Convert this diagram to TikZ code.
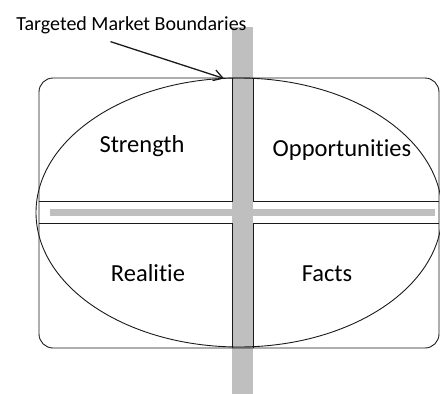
\documentclass[tikz,border=0pt]{standalone}
\usepackage{fontspec}
\setmainfont{Carlito}[RawFeature={-liga;-clig;-dlig}]
\usetikzlibrary{arrows.meta,positioning}
\definecolor{swbar}{HTML}{BFBFBF}
\definecolor{swline}{HTML}{1A1A1A}
\tikzset{
  frame/.style={draw=swline,line width=0.9pt},
  bar/.style={fill=swbar,draw=none},
  quad/.style={font=\fontsize{24.5}{29}\selectfont,inner sep=0pt,anchor=base},
  ttl/.style={font=\fontsize{20}{24}\selectfont,inner sep=0pt,anchor=base},
  ar/.style={-{Straight Barb[length=9pt,width=11pt]},line width=1.3pt,swline},
}

\begin{document}
\begin{tikzpicture}[x=1pt,y=-1pt]
  \useasboundingbox (0,0) rectangle (440,394);
  % grey cross behind the quadrants
  \fill[bar] (232,27) rectangle (253,394);
  \fill[bar] (50,209) rectangle (435,216);
  % frame, quadrant edges and market ellipse
  \draw[frame,rounded corners=14pt] (39,78) rectangle (439,348);
  \draw[frame] (39,201) -- (232,201) -- (232,78) (253,78) -- (253,201) -- (439,201)
    (39,223) -- (232,223) -- (232,348) (253,348) -- (253,223) -- (439,223);
  \draw[frame] (239,212.5) ellipse [x radius=203,y radius=134.5];
  \node[quad] (sg) at (142,152) {Strength};
  \node[quad] (op) at (342,156) {Opportunities};
  \node[quad] (re) at (148,281) {Realitie};
  \node[quad] (fa) at (327,281) {Facts};
  \node[ttl] (tgt) at (131.5,30) {Targeted Market Boundaries};
  \coordinate (tip) at (224,78.5);
  \draw[ar] ([xshift=-21pt,yshift=-8pt]tgt.south) -- (tip);
\end{tikzpicture}
\end{document}
